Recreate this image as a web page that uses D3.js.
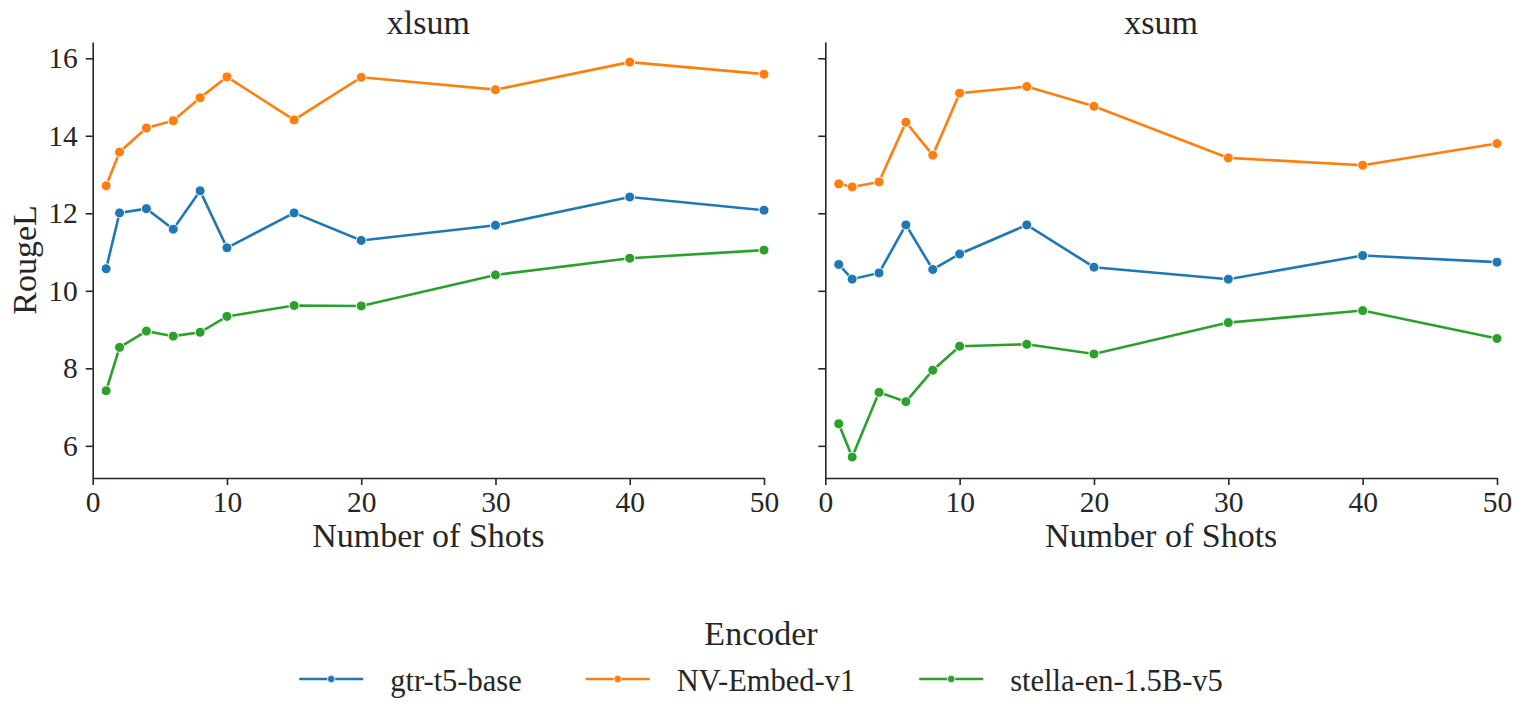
<!DOCTYPE html>
<html>
<head>
<meta charset="utf-8">
<script src="https://cdnjs.cloudflare.com/ajax/libs/d3/7.8.5/d3.min.js"></script>
<style>
  body { margin: 0; background: #fff; }
  svg text { font-family: "Liberation Serif", "Times New Roman", serif; fill: #262626; }
  .axis path, .axis line { stroke: #262626; stroke-width: 1.6; }
</style>
</head>
<body>
<svg id="chart" width="1523" height="720"></svg>
<script>
// data
const shots = [1, 2, 4, 6, 8, 10, 15, 20, 30, 40, 50];
const encoders = ["gtr-t5-base", "NV-Embed-v1", "stella-en-1.5B-v5"];
const colors = ["#1f77b4", "#ff7f0e", "#2ca02c"];

const xlsum_gtr    = [10.57, 12.01, 12.12, 11.59, 12.58, 11.11, 12.01, 11.30, 11.69, 12.42, 12.08];
const xlsum_nv     = [12.71, 13.58, 14.20, 14.39, 14.98, 15.52, 14.41, 15.51, 15.19, 15.90, 15.59];
const xlsum_stella = [7.42, 8.54, 8.96, 8.83, 8.93, 9.34, 9.62, 9.61, 10.41, 10.84, 11.05];

const xsum_gtr    = [10.68, 10.30, 10.46, 11.70, 10.55, 10.95, 11.70, 10.61, 10.30, 10.91, 10.74];
const xsum_nv     = [12.76, 12.68, 12.81, 14.35, 13.50, 15.10, 15.27, 14.76, 13.43, 13.24, 13.80];
const xsum_stella = [6.57, 5.71, 7.38, 7.14, 7.95, 8.57, 8.62, 8.37, 9.18, 9.49, 8.77];

const panels = [
  { title: "xlsum", series: [xlsum_gtr, xlsum_nv, xlsum_stella], left: 92.7, right: 764 },
  { title: "xsum",  series: [xsum_gtr, xsum_nv, xsum_stella],    left: 825.3, right: 1497 }
];

const plot_top = 42;
const plot_bottom = 478;
const tick_font = 29.5;
const label_font = 34;

const svg = d3.select("#chart");

const y_scale = d3.scaleLinear()
    .domain([5.17, 16.42])
    .range([plot_bottom, plot_top]);

panels.forEach(function(p, pi) {
    const x_scale = d3.scaleLinear()
        .domain([0, 50])
        .range([p.left, p.right]);

    // x axis
    const gx = svg.append("g")
        .attr("class", "axis")
        .attr("transform", "translate(0," + plot_bottom + ")")
        .call(d3.axisBottom(x_scale)
            .tickValues([0, 10, 20, 30, 40, 50])
            .tickSize(7)
            .tickSizeOuter(0)
            .tickPadding(6));
    gx.selectAll("text").style("font-size", tick_font + "px");

    // y axis (labels only on the first panel)
    const gy = svg.append("g")
        .attr("class", "axis")
        .attr("transform", "translate(" + p.left + ",0)")
        .call(d3.axisLeft(y_scale)
            .tickValues([6, 8, 10, 12, 14, 16])
            .tickSize(7)
            .tickSizeOuter(0)
            .tickPadding(8)
            .tickFormat(pi === 0 ? d3.format("d") : ""));
    gy.selectAll("text").style("font-size", tick_font + "px");

    // panel title
    svg.append("text")
        .attr("x", (p.left + p.right) / 2)
        .attr("y", 34)
        .attr("text-anchor", "middle")
        .style("font-size", label_font + "px")
        .text(p.title);

    // x label
    svg.append("text")
        .attr("x", (p.left + p.right) / 2)
        .attr("y", 547)
        .attr("text-anchor", "middle")
        .style("font-size", label_font + "px")
        .text("Number of Shots");

    const line = d3.line()
        .x(function(d, i) { return x_scale(shots[i]); })
        .y(function(d) { return y_scale(d); });

    p.series.forEach(function(vals, si) {
        svg.append("path")
            .datum(vals)
            .attr("d", line)
            .attr("fill", "none")
            .attr("stroke", colors[si])
            .attr("stroke-width", 2.6);

        svg.selectAll(null)
            .data(vals)
            .enter()
            .append("circle")
            .attr("cx", function(d, i) { return x_scale(shots[i]); })
            .attr("cy", function(d) { return y_scale(d); })
            .attr("r", 5)
            .attr("fill", colors[si])
            .attr("stroke", "#fff")
            .attr("stroke-width", 1);
    });
});

// y label
svg.append("text")
    .attr("transform", "translate(36," + ((plot_top + plot_bottom) / 2) + ") rotate(-90)")
    .attr("text-anchor", "middle")
    .style("font-size", label_font + "px")
    .text("RougeL");

// legend
const legend_center = 761;
svg.append("text")
    .attr("x", legend_center)
    .attr("y", 645)
    .attr("text-anchor", "middle")
    .style("font-size", label_font + "px")
    .text("Encoder");

const handle_len = 64;
const handle_gap = 27;
const col_gap = 64;
const legend = svg.append("g");
let cursor = 0;
encoders.forEach(function(name, i) {
    const item = legend.append("g").attr("transform", "translate(" + cursor + ",0)");
    item.append("line")
        .attr("x1", 0).attr("x2", handle_len)
        .attr("y1", 679).attr("y2", 679)
        .attr("stroke", colors[i])
        .attr("stroke-width", 2.6);
    item.append("circle")
        .attr("cx", handle_len / 2).attr("cy", 679)
        .attr("r", 3.8)
        .attr("fill", colors[i])
        .attr("stroke", "#fff")
        .attr("stroke-width", 0.8);
    const t = item.append("text")
        .attr("x", handle_len + handle_gap)
        .attr("y", 691)
        .style("font-size", "30.5px")
        .text(name);
    cursor += handle_len + handle_gap + t.node().getComputedTextLength() + col_gap;
});
const total = cursor - col_gap;
legend.attr("transform", "translate(" + (legend_center - total / 2) + ",0)");
</script>
</body>
</html>
